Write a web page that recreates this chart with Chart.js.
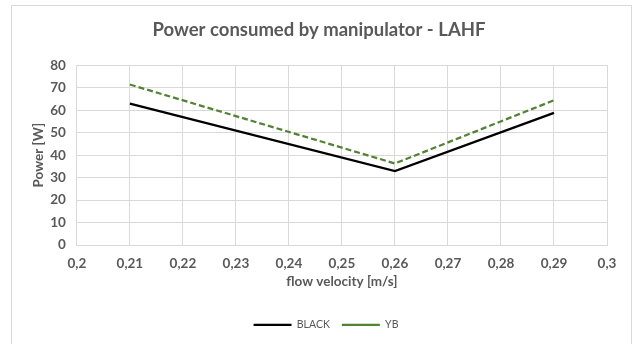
<!DOCTYPE html>
<html>
<head>
<meta charset="utf-8">
<script src="https://cdn.jsdelivr.net/npm/chart.js@4/dist/chart.umd.min.js"></script>
<style>
  html, body { margin: 0; padding: 0; background: #ffffff; }
  #wrap { position: relative; width: 632px; height: 344px; }
</style>
</head>
<body>
<div id="wrap"><canvas id="chart" width="632" height="344"></canvas></div>
<script>
// Flow velocity (m/s) at which power was measured
const velocities = [0.21, 0.26, 0.29];
// Power consumed [W] per configuration
const blackPower = [62.9, 32.9, 58.8];
const ybPower = [71.4, 36.3, 64.4];
// Axis settings
const xTicksMin = 0.2, xTicksMax = 0.3, xStep = 0.01;
const yTicksMin = 0, yTicksMax = 80, yStep = 10;

const TEXT = '#595959';
const GRID = '#d9d9d9';
const FONT = 'Lato, "Open Sans", sans-serif';

const toPoints = vals => velocities.map((v, i) => ({ x: v, y: vals[i] }));

// Thin frame around the whole chart object
const framePlugin = {
  id: 'frame',
  beforeDraw(chart) {
    const c = chart.ctx;
    c.save();
    c.fillStyle = '#ffffff';
    c.fillRect(0, 0, chart.width, chart.height);
    c.strokeStyle = '#d9d9d9';
    c.lineWidth = 1;
    c.strokeRect(11.5, 5.5, chart.width - 12, chart.height + 4);
    c.restore();
  }
};

// Nudge the legend row a little to the right
const legendShift = {
  id: 'legendShift',
  afterLayout(chart) {
    if (chart.legend) {
      chart.legend.left += 7;
      chart.legend.right += 7;
    }
  }
};

new Chart(document.getElementById('chart'), {
  type: 'line',
  data: {
    datasets: [
      {
        label: 'BLACK',
        data: toPoints(blackPower),
        borderColor: '#000000',
        backgroundColor: '#000000',
        borderWidth: 2.25,
        pointRadius: 0,
        tension: 0,
        fill: false
      },
      {
        label: 'YB',
        data: toPoints(ybPower),
        borderColor: '#548235',
        backgroundColor: '#548235',
        borderWidth: 2.25,
        borderDash: [6, 3],
        pointRadius: 0,
        tension: 0,
        fill: false
      }
    ]
  },
  options: {
    responsive: false,
    animation: false,
    devicePixelRatio: 1,
    layout: { padding: { left: 31, right: 25, top: 8, bottom: 4 } },
    plugins: {
      title: {
        display: true,
        text: 'Power consumed by manipulator - LAHF',
        color: TEXT,
        font: { family: FONT, size: 18.5, weight: 'bold' },
        padding: { top: 11, bottom: 24 }
      },
      legend: {
        position: 'bottom',
        labels: {
          color: TEXT,
          font: { family: FONT, size: 10.5 },
          usePointStyle: true,
          pointStyle: 'line',
          pointStyleWidth: 38,
          boxHeight: 2,
          padding: 12
        }
      },
      tooltip: { enabled: false }
    },
    scales: {
      x: {
        type: 'linear',
        min: xTicksMin,
        max: xTicksMax,
        ticks: {
          stepSize: xStep,
          color: TEXT,
          font: { family: FONT, size: 13.5, weight: 'bold' },
          padding: 10,
          callback: v => Number(v.toFixed(2)).toString().replace('.', ',')
        },
        grid: { color: GRID, lineWidth: 1, drawTicks: false },
        border: { color: GRID },
        title: {
          display: true,
          text: 'flow velocity [m/s]',
          color: TEXT,
          font: { family: FONT, size: 13.5, weight: 'bold' },
          padding: { top: -8, bottom: 18 }
        }
      },
      y: {
        min: yTicksMin,
        max: yTicksMax,
        ticks: {
          stepSize: yStep,
          color: TEXT,
          font: { family: FONT, size: 13.5, weight: 'bold' },
          padding: 11
        },
        grid: { color: GRID, lineWidth: 1, drawTicks: false },
        border: { color: GRID },
        title: {
          display: true,
          text: 'Power [W]',
          color: TEXT,
          font: { family: FONT, size: 13.5, weight: 'bold' },
          padding: { top: 0, bottom: -8 }
        }
      }
    }
  },
  plugins: [framePlugin, legendShift]
});
</script>
</body>
</html>
